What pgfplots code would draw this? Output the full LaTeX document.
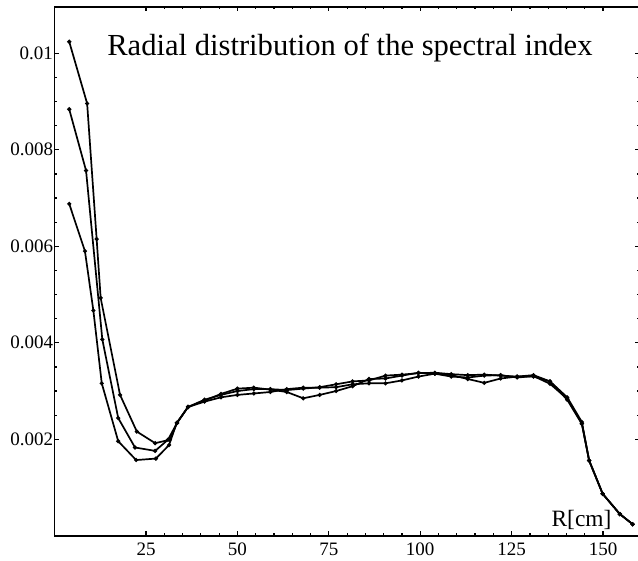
\documentclass[border=0pt]{standalone}
\usepackage{fontspec}
\setmainfont{Liberation Serif}
\usepackage{pgfplots}
\pgfplotsset{compat=1.18}
\pgfplotsset{myline/.style={black, line width=0.85pt, mark=*, mark size=0.55pt, mark options={solid, fill=black}}}
\begin{document}
\begin{tikzpicture}
\begin{axis}[
  scale only axis,
  width=292.5pt, height=264.4pt,
  xmin=0, xmax=160, ymin=0, ymax=0.01096,
  xtick={25,50,75,100,125,150},
  xticklabels={25,50,75,100,125,150},
  ytick={0.002,0.004,0.006,0.008,0.01},
  yticklabels={0.002,0.004,0.006,0.008,0.01},
  scaled y ticks=false,
  minor x tick num=4,
  minor y tick num=3,
  tick align=inside,
  major tick length=2.2pt,
  minor tick length=1.2pt,
  tick style={black, line width=0.6pt},
  axis line style={line width=0.9pt},
  /pgf/number format/assume math mode=true,
  tick label style={font=\fontsize{9.5}{11}\selectfont},
  yticklabel style={inner sep=0.6pt},
  xticklabel style={inner sep=1pt, yshift=-2.5pt},
]
\addplot[myline] coordinates {
(4,0.01024) (8.9,0.00896) (11.5,0.00615) (12.6,0.00493) (17.9,0.00292)
(22.5,0.00216) (27.5,0.00192) (31.5,0.00199) (33.5,0.00234) (36.5,0.00267)
(41,0.00282) (45.5,0.00292) (50,0.00300) (54.5,0.00304) (59,0.00304)
(63.5,0.00302) (68,0.00305) (72.5,0.00308) (77,0.00314) (81.5,0.00320)
(86,0.00322) (90.5,0.00332) (95,0.00334) (99.5,0.00337) (104,0.00338)
(108.5,0.00335) (113,0.00333) (117.5,0.00334) (122,0.00332) (126.5,0.00330)
(131,0.00330) (135.5,0.00320) (140.2,0.00287) (144.2,0.00236)
(146.2,0.00156) (149.9,0.00087) (154.6,0.00045) (158.1,0.00024)
};
\addplot[myline] coordinates {
(4,0.00884) (8.6,0.00757) (13.05,0.00407) (17.4,0.00244) (22,0.00183)
(27.5,0.00176) (31,0.00199) (33.5,0.00234) (36.5,0.00267)
(41,0.00280) (45.5,0.00294) (50,0.00305) (54.5,0.00307) (59,0.00303)
(63.5,0.00298) (68,0.00285) (72.5,0.00292) (77,0.00300) (81.5,0.00310)
(86,0.00325) (90.5,0.00326) (95,0.00332) (99.5,0.00338) (104,0.00336)
(108.5,0.00330) (113,0.00328) (117.5,0.00332) (122,0.00333) (126.5,0.00328)
(131,0.00331) (135.5,0.00315) (140.2,0.00284) (144.2,0.00233)
(146.2,0.00156) (149.9,0.00087) (154.6,0.00045) (158.1,0.00024)
};
\addplot[myline] coordinates {
(4,0.00688) (8.3,0.00590) (10.6,0.00467) (12.9,0.00316) (17.4,0.00196)
(22.3,0.00157) (27.7,0.00160) (31.3,0.00188) (33.4,0.00234) (36.5,0.00267)
(41,0.00278) (45.5,0.00287) (50,0.00292) (54.5,0.00295) (59,0.00298)
(63.5,0.00304) (68,0.00307) (72.5,0.00307) (77,0.00308) (81.5,0.00314)
(86,0.00316) (90.5,0.00316) (95,0.00322) (99.5,0.00330) (104,0.00336)
(108.5,0.00333) (113,0.00325) (117.5,0.00317) (122,0.00326) (126.5,0.00330)
(131,0.00333) (135.5,0.00320) (140.2,0.00282) (144.2,0.00232)
(146.2,0.00156) (149.9,0.00087) (154.6,0.00045) (158.1,0.00024)
};
\node[anchor=base west, inner sep=0pt, font=\fontsize{15.3}{18}\selectfont]
  at (axis cs:14.3,0.00996) {Radial distribution of the spectral index};
\node[anchor=base east, inner sep=0pt, font=\fontsize{11.7}{14}\selectfont]
  at (axis cs:152.4,0.0002) {R[cm]};
\coordinate (sw) at (rel axis cs:0,0);
\coordinate (ne) at (rel axis cs:1,1);
\end{axis}
\pgfresetboundingbox
\path[use as bounding box] ([xshift=-27.3pt,yshift=-12.6pt]sw) rectangle ([xshift=-0.8pt,yshift=3.5pt]ne);
\end{tikzpicture}
\end{document}
